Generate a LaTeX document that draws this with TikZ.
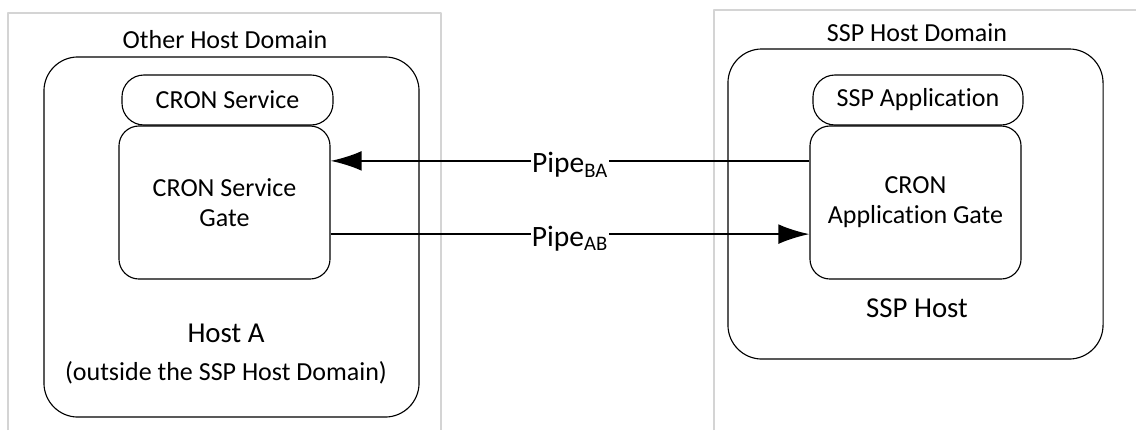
\documentclass[tikz,border=0pt]{standalone}
\usepackage{fontspec}
\setmainfont{Carlito}[Ligatures={NoCommon,NoContextual}]
\usetikzlibrary{arrows.meta}
\definecolor{domain_gray}{RGB}{212,212,212}
\tikzset{
	gatebox/.style={draw, line width=0.8pt, rounded corners=0.5cm, align=center,
		minimum width=5.275cm, minimum height=3.825cm, font=\fontsize{18.5}{21.5}\selectfont},
	appbox/.style={draw, line width=0.8pt, rounded corners=0.55cm,
		minimum width=5.25cm, minimum height=1.25cm, font=\fontsize{18.5}{21.5}\selectfont},
	hostbox/.style={draw, line width=0.8pt, rounded corners=0.85cm, minimum width=9.375cm},
	pipe/.style={line width=1.5pt, -{Latex[length=22pt,width=14pt]}},
	pipelabel/.style={midway, fill=white, inner sep=1pt, yshift=-3pt, font=\fontsize{21}{24}\selectfont}
}

\begin{document}
\begin{tikzpicture}[x=0.025cm,y=-0.025cm,line join=round]
		\useasboundingbox (0,0) rectangle (1136,430);
		% domains
		\draw[domain_gray, line width=1pt] (8,430) -- (8,13) -- (441,13) -- (441,430);
		\draw[domain_gray, line width=1pt] (714,430) -- (714,10) -- (1136,10);
		\node[font=\fontsize{18.5}{21.5}\selectfont] (otherdom) at (225,40) {Other Host Domain};
		\node[font=\fontsize{18.5}{21.5}\selectfont] (sspdom)   at (917,33) {SSP Host Domain};
		% hosts
		\node[hostbox, minimum height=9cm]    (hosta)   at (231.5,237) {};
		\node[hostbox, minimum height=7.75cm] (ssphost) at (915.5,204) {};
		\node[font=\fontsize{20.5}{24}\selectfont] (hostalbl) at (226,333) {Host A};
		\node[font=\fontsize{18.5}{21.5}\selectfont] (outside) at (226,373) {(outside the SSP Host Domain)};
		\node[font=\fontsize{20.5}{24}\selectfont] (ssphostlbl) at (917,308) {SSP Host};
		% service and application
		\node[appbox, minimum width=5.275cm] (service) at (227.5,100) {CRON Service};
		\node[appbox]                        (sspapp)  at (918,100)   {SSP Application};
		\node[gatebox] (sgate) at (224.5,202.5) {CRON Service\\Gate};
		\node[gatebox] (agate) at (915.5,202.5) {CRON\\Application Gate};
		% pipes
		\draw[pipe] ([yshift=1.04cm]agate.west) -- node[pipelabel] {Pipe\textsubscript{BA}} ([yshift=1.04cm]sgate.east);
		\draw[pipe] ([yshift=-0.79cm]sgate.east) -- node[pipelabel] {Pipe\textsubscript{AB}} ([yshift=-0.79cm]agate.west);
	\end{tikzpicture}
\end{document}
